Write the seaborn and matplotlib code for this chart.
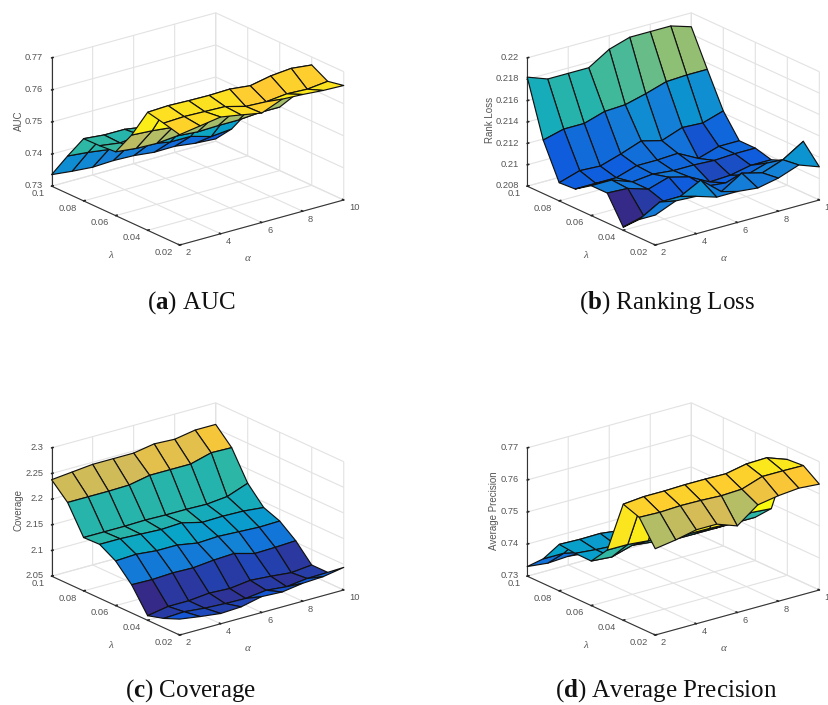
import numpy as np
import matplotlib
matplotlib.use('Agg')
import matplotlib.pyplot as plt
import seaborn as sns

alpha = [2, 3, 4, 5, 6, 7, 8, 9, 10]
lam = [0.1, 0.09, 0.08, 0.07, 0.06, 0.05, 0.04, 0.03, 0.02]

# rows follow lam, columns follow alpha
auc = [
    [.7336, .7329, .7324, .7327, .7325, .7318, .7319, .7311, .7307],
    [.7417, .7411, .7402, .7397, .7385, .7373, .7373, .7355, .7361],
    [.7494, .7488, .7488, .7478, .7455, .7448, .7456, .7442, .7436],
    [.7495, .7486, .7493, .7491, .7478, .7486, .7484, .7472, .7477],
    [.7499, .7492, .7490, .7496, .7491, .7493, .7493, .7498, .7498],
    [.7574, .7570, .7563, .7557, .7560, .7560, .7566, .7560, .7560],
    [.7668, .7671, .7669, .7668, .7670, .7663, .7676, .7682, .7675],
    [.7657, .7660, .7658, .7656, .7639, .7636, .7643, .7640, .7647],
    [.7644, .7654, .7664, .7653, .7641, .7667, .7664, .7659, .7657],
]
rankLoss = [
    [.2182, .2175, .2175, .2175, .2187, .2193, .2193, .2193, .2187],
    [.2130, .2135, .2135, .2141, .2142, .2147, .2153, .2154, .2154],
    [.2097, .2103, .2102, .2108, .2115, .2110, .2117, .2116, .2122],
    [.2098, .2098, .2098, .2104, .2104, .2105, .2095, .2101, .2101],
    [.2108, .2108, .2101, .2103, .2101, .2101, .2100, .2101, .2101],
    [.2108, .2107, .2101, .2107, .2102, .2092, .2093, .2097, .2097],
    [.2083, .2088, .2096, .2097, .2100, .2098, .2100, .2106, .2103],
    [.2097, .2108, .2108, .2118, .2102, .2114, .2109, .2116, .2128],
    [.2108, .2116, .2115, .2109, .2109, .2107, .2111, .2118, .2111],
]
coverage = [
    [2.238, 2.242, 2.246, 2.246, 2.246, 2.253, 2.251, 2.258, 2.258],
    [2.208, 2.208, 2.208, 2.209, 2.217, 2.217, 2.217, 2.228, 2.227],
    [2.154, 2.154, 2.154, 2.155, 2.154, 2.154, 2.153, 2.157, 2.172],
    [2.155, 2.155, 2.153, 2.151, 2.153, 2.143, 2.144, 2.143, 2.139],
    [2.137, 2.139, 2.135, 2.135, 2.128, 2.130, 2.128, 2.126, 2.127],
    [2.105, 2.104, 2.106, 2.105, 2.109, 2.111, 2.100, 2.101, 2.103],
    [2.059, 2.066, 2.066, 2.070, 2.068, 2.073, 2.070, 2.066, 2.070],
    [2.068, 2.070, 2.066, 2.064, 2.063, 2.068, 2.064, 2.069, 2.070],
    [2.081, 2.075, 2.070, 2.072, 2.081, 2.079, 2.085, 2.087, 2.094],
]
avgPrecision = [
    [.7330, .7323, .7327, .7320, .7311, .7308, .7303, .7305, .7305],
    [.7377, .7377, .7363, .7366, .7352, .7347, .7347, .7342, .7342],
    [.7445, .7443, .7444, .7436, .7429, .7425, .7425, .7425, .7425],
    [.7440, .7434, .7430, .7423, .7420, .7415, .7415, .7415, .7415],
    [.7439, .7434, .7453, .7446, .7435, .7435, .7435, .7435, .7435],
    [.7496, .7496, .7490, .7484, .7477, .7476, .7474, .7490, .7485],
    [.7662, .7668, .7668, .7670, .7670, .7669, .7682, .7684, .7661],
    [.7644, .7642, .7645, .7644, .7641, .7644, .7666, .7666, .7665],
    [.7569, .7579, .7593, .7593, .7570, .7618, .7629, .7635, .7630],
]

alphaTicks = [2, 4, 6, 8, 10]
lamTicks = [0.02, 0.04, 0.06, 0.08, 0.1]
lamLabels = ['0.02', '0.04', '0.06', '0.08', '0.1']
precTicks = [0.73, 0.74, 0.75, 0.76, 0.77]
precLabels = ['0.73', '0.74', '0.75', '0.76', '0.77']
lossTicks = [0.208, 0.21, 0.212, 0.214, 0.216, 0.218, 0.22]
lossLabels = ['0.208', '0.21', '0.212', '0.214', '0.216', '0.218', '0.22']
covTicks = [2.05, 2.1, 2.15, 2.2, 2.25, 2.3]
covLabels = ['2.05', '2.1', '2.15', '2.2', '2.25', '2.3']

parula = ['#352a87', '#0f5cdd', '#1481d6', '#06a4ca', '#2eb7a4', '#87bf77', '#d1bb59', '#fec832', '#f9fb0e']

sns.set_theme(style='white')
plt.rcParams['font.family'] = ['Liberation Sans', 'DejaVu Sans']
plt.rcParams['grid.color'] = '#e2e2e2'
plt.rcParams['grid.linewidth'] = 0.8
plt.rcParams['mathtext.fontset'] = 'custom'
plt.rcParams['mathtext.rm'] = 'Liberation Serif'
plt.rcParams['mathtext.it'] = 'Liberation Serif:italic'
plt.rcParams['mathtext.bf'] = 'Liberation Serif:bold'

cmap = sns.blend_palette(parula, n_colors=256, as_cmap=True)
textGray = '#555555'
figW, figH = 829, 705
side = 315.6


def drawPanel(origin, zValues, zTicks, zLabels, zName, zPad, caption, captionY):
    ox, oy = origin
    left = (193.4 + ox - side / 2) / figW
    bottom = 1 - (133.2 + oy + side / 2) / figH
    ax = fig.add_axes([left, bottom, side / figW, side / figH], projection='3d', proj_type='ortho')
    ax.view_init(elev=20.8, azim=-127.7)
    ax.set_box_aspect((207, 209, 137))
    ax.patch.set_alpha(0)

    xGrid, yGrid = np.meshgrid(alpha, lam)
    zGrid = np.array(zValues)
    # every facet takes the colour of its corner nearest the lam=0.02 side
    norm = plt.Normalize(zGrid.min(), zGrid.max())
    surf = ax.plot_surface(xGrid, yGrid, zGrid, rstride=1, cstride=1, facecolors=cmap(norm(zGrid[1:, :])),
                           shade=False, linewidth=0.85, antialiased=True)
    surf.set_edgecolor('#111111')

    ax.set_xlim(2, 10, view_margin=0)
    ax.set_ylim(0.02, 0.1, view_margin=0)
    ax.set_zlim(zTicks[0], zTicks[-1], view_margin=0)
    ax.set_xticks(alphaTicks, [str(a) for a in alphaTicks])
    ax.set_yticks(lamTicks, lamLabels)
    ax.set_zticks(zTicks, zLabels)
    ax.tick_params(axis='both', labelsize=6.7, labelcolor=textGray, pad=-3)
    ax.tick_params(axis='z', pad=-4.6)
    plt.setp(ax.get_xticklabels(), ha='left', va='center')
    plt.setp(ax.get_yticklabels(), ha='right', va='center')
    plt.setp(ax.get_zticklabels(), ha='right', va='center')

    for axis in [ax.xaxis, ax.yaxis, ax.zaxis]:
        axis.set_pane_color((1, 1, 1, 0))
        axis.pane.set_edgecolor('#e2e2e2')
        axis.line.set_color('#333333')
        axis.line.set_linewidth(0.8)
        axis._axinfo['tick']['inward_factor'] = 0.0
        axis._axinfo['tick']['outward_factor'] = 0.12

    ax.zaxis.set_rotate_label(False)
    ax.set_zlabel(zName, fontsize=7, color=textGray, rotation=90, labelpad=zPad)

    # the two floor labels sit under the front corner, not at the axis middle
    fig.text((111 + ox) / figW, 1 - (254 + oy) / figH, r'$\lambda$', fontsize=8, color=textGray, ha='center', va='center')
    fig.text((248 + ox) / figW, 1 - (258 + oy) / figH, r'$\alpha$', fontsize=8, color=textGray, ha='center', va='center')
    fig.text((191 + ox) / figW, 1 - captionY / figH, caption, ha='center', va='center',
             fontsize=18, family='Liberation Serif', color='#111111')


fig = plt.figure(figsize=(figW / 100, figH / 100), dpi=100)
drawPanel((0, 0), auc, precTicks, precLabels, 'AUC', -7.6, r'($\mathbf{a}$) AUC', 303)
drawPanel((475.6, 0), rankLoss, lossTicks, lossLabels, 'Rank Loss', -6, r'($\mathbf{b}$) Ranking Loss', 303)
drawPanel((0, 390), coverage, covTicks, covLabels, 'Coverage', -7.6, r'($\mathbf{c}$) Coverage', 691)
drawPanel((475.6, 390), avgPrecision, precTicks, precLabels, 'Average Precision', -7.6, r'($\mathbf{d}$) Average Precision', 691)
fig.savefig('out.png', dpi=100)
